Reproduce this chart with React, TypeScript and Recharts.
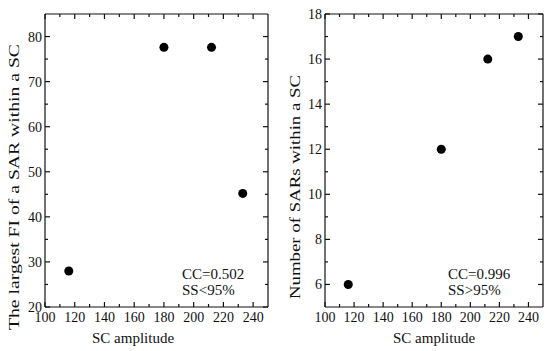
import React from "react";
import { ScatterChart, Scatter, XAxis, YAxis } from "recharts";

// SC amplitude for the four events (same x in both panels)
const scAmplitude = [116, 180, 212, 233];
const largestFI = [28, 77.6, 77.6, 45.2];
const sarCount = [6, 12, 16, 17];

const xTicks = [100, 110, 120, 130, 140, 150, 160, 170, 180, 190, 200, 210, 220, 230, 240];
const xLabelled = [100, 120, 140, 160, 180, 200, 220, 240];
const fiTicks = [20, 25, 30, 35, 40, 45, 50, 55, 60, 65, 70, 75, 80];
const fiLabelled = [20, 30, 40, 50, 60, 70, 80];
const countTicks = [6, 7, 8, 9, 10, 11, 12, 13, 14, 15, 16, 17, 18];
const countLabelled = [6, 8, 10, 12, 14, 16, 18];

const FONT = '"Liberation Serif", "Times New Roman", serif';
const INK = "#111";

const fiData = scAmplitude.map((x, i) => ({ x, y: largestFI[i] }));
const countData = scAmplitude.map((x, i) => ({ x, y: sarCount[i] }));

// inward tick marks, majors longer; labels only on bottom / left
const bottomTick = (majors: number[]) => (p: any) => {
  const major = majors.includes(p.payload.value);
  return (
    <g>
      <line x1={p.x} x2={p.x} y1={p.y} y2={p.y - (major ? 5 : 3)} stroke={INK} strokeWidth={1.2} />
      {major && (
        <text x={p.x} y={p.y + 15} textAnchor="middle" fontFamily={FONT} fontSize={14} fill={INK}>
          {p.payload.value}
        </text>
      )}
    </g>
  );
};
const topTick = (majors: number[]) => (p: any) => {
  const major = majors.includes(p.payload.value);
  return <line x1={p.x} x2={p.x} y1={p.y} y2={p.y + (major ? 5 : 3)} stroke={INK} strokeWidth={1.2} />;
};
const leftTick = (majors: number[]) => (p: any) => {
  const major = majors.includes(p.payload.value);
  return (
    <g>
      <line x1={p.x} x2={p.x + (major ? 5 : 3)} y1={p.y} y2={p.y} stroke={INK} strokeWidth={1.2} />
      {major && (
        <text x={p.x - 3} y={p.y + 5} textAnchor="end" fontFamily={FONT} fontSize={14} fill={INK}>
          {p.payload.value}
        </text>
      )}
    </g>
  );
};
const rightTick = (majors: number[]) => (p: any) => {
  const major = majors.includes(p.payload.value);
  return <line x1={p.x} x2={p.x - (major ? 5 : 3)} y1={p.y} y2={p.y} stroke={INK} strokeWidth={1.2} />;
};

function Panel({
  data,
  yDomain,
  yTicks,
  yMajor,
  yAxisWidth,
}: {
  data: { x: number; y: number }[];
  yDomain: [number, number];
  yTicks: number[];
  yMajor: number[];
  yAxisWidth: number;
}) {
  return (
    <div style={{ position: "relative" }}>
      <ScatterChart width={275} height={351} margin={{ top: 13, right: 6, bottom: 0, left: 0 }}>
        <XAxis
          xAxisId="b"
          dataKey="x"
          type="number"
          domain={[100, 250]}
          ticks={xTicks}
          interval={0}
          tickSize={0}
          tickMargin={0}
          tickLine={false}
          axisLine={{ stroke: INK, strokeWidth: 1.2 }}
          height={44}
          tick={bottomTick(xLabelled)}
        />
        <XAxis
          xAxisId="t"
          dataKey="x"
          type="number"
          orientation="top"
          domain={[100, 250]}
          ticks={xTicks}
          interval={0}
          tickSize={0}
          tickMargin={0}
          tickLine={false}
          axisLine={{ stroke: INK, strokeWidth: 1.2 }}
          height={1}
          tick={topTick(xLabelled)}
        />
        <YAxis
          yAxisId="l"
          dataKey="y"
          type="number"
          domain={yDomain}
          ticks={yTicks}
          interval={0}
          tickSize={0}
          tickMargin={0}
          tickLine={false}
          axisLine={{ stroke: INK, strokeWidth: 1.2 }}
          width={yAxisWidth}
          tick={leftTick(yMajor)}
        />
        <YAxis
          yAxisId="r"
          dataKey="y"
          type="number"
          orientation="right"
          domain={yDomain}
          ticks={yTicks}
          interval={0}
          tickSize={0}
          tickMargin={0}
          tickLine={false}
          axisLine={{ stroke: INK, strokeWidth: 1.2 }}
          width={1}
          tick={rightTick(yMajor)}
        />
        <Scatter data={data} xAxisId="t" yAxisId="r" fill="none" isAnimationActive={false} />
        <Scatter data={data} xAxisId="b" yAxisId="l" fill="#000" isAnimationActive={false} />
      </ScatterChart>
    </div>
  );
}

const txt = { fontFamily: FONT, fontSize: 15, fill: INK };

export default function App() {
  return (
    <div
      style={{
        position: "absolute",
        left: 0,
        top: 0,
        width: 550,
        height: 351,
        background: "#fff",
        display: "flex",
      }}
    >
      <Panel data={fiData} yDomain={[20, 85]} yTicks={fiTicks} yMajor={fiLabelled} yAxisWidth={45} />
      <Panel data={countData} yDomain={[5, 18]} yTicks={countTicks} yMajor={countLabelled} yAxisWidth={50} />
      <svg width={550} height={351} style={{ position: "absolute", left: 0, top: 0, pointerEvents: "none" }}>
        <text x={133} y={343} textAnchor="middle" {...txt}>SC amplitude</text>
        <text x={434} y={343} textAnchor="middle" {...txt}>SC amplitude</text>
        <text
          x={14}
          y={187}
          transform="rotate(-90 14 187)"
          textAnchor="middle"
          dominantBaseline="central"
          textLength={286}
          lengthAdjust="spacingAndGlyphs"
          {...txt}
        >
          The largest FI of a SAR within a SC
        </text>
        <text
          x={295}
          y={187}
          transform="rotate(-90 295 187)"
          textAnchor="middle"
          dominantBaseline="central"
          textLength={224}
          lengthAdjust="spacingAndGlyphs"
          {...txt}
        >
          Number of SARs within a SC
        </text>
        <text x={182} y={279} {...txt}>CC=0.502</text>
        <text x={182} y={295} {...txt}>SS&lt;95%</text>
        <text x={448} y={279} {...txt}>CC=0.996</text>
        <text x={448} y={295} {...txt}>SS&gt;95%</text>
      </svg>
    </div>
  );
}
